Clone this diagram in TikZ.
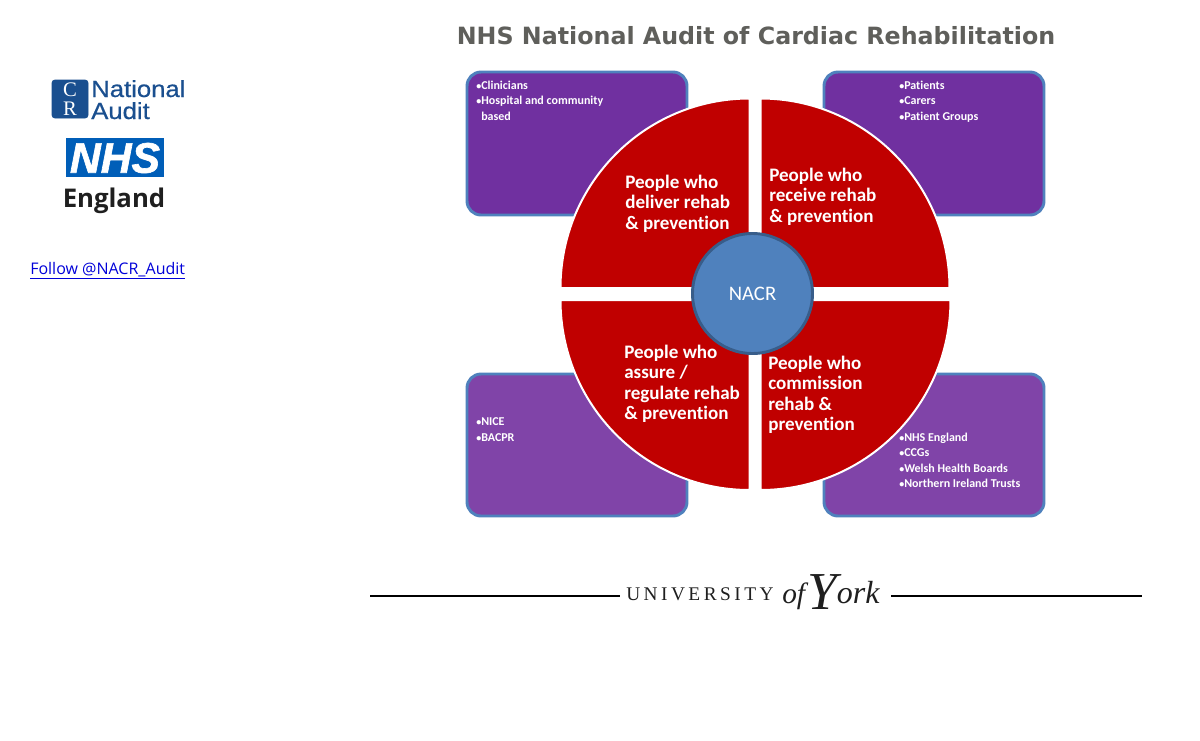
\documentclass[tikz,border=0pt]{standalone}
\usepackage{fontspec}
\setmainfont[RawFeature={-liga;-clig}]{Carlito}
\newfontfamily\titlefont{DejaVu Sans}
\newfontfamily\linkfont{Open Sans}
\newfontfamily\logofont[FakeStretch=1.1,FakeBold=0.6]{Liberation Sans}
\newfontfamily\nhsfont[FakeBold=1.5]{Liberation Sans}
\newfontfamily\yorkfont{Liberation Serif}
\newfontfamily\yorkspaced[LetterSpace=18]{Liberation Serif}
\definecolor{boxdark}{HTML}{7030A0}
\definecolor{boxlight}{HTML}{8044A8}
\definecolor{boxedge}{HTML}{4F81BD}
\definecolor{wedge}{HTML}{C00000}
\definecolor{hub}{HTML}{4F81BD}
\definecolor{hubedge}{HTML}{385D8A}
\definecolor{titlegrey}{HTML}{5F5F5B}
\definecolor{nhsblue}{HTML}{005EB8}
\definecolor{crblue}{HTML}{1A4F8F}
\newcommand{\px}[2]{\fontsize{#1}{#2}\selectfont}
\newcommand{\bul}{{\fontsize{7.5}{7.5}\selectfont•}}
\tikzset{
  panel/.style={draw=boxedge,line width=2.2pt,rounded corners=10.5pt},
  quarter/.style={fill=wedge,draw=white,line width=1.5pt},
  wedgelabel/.style={anchor=north west,inner sep=0pt,align=left,text=white,font=\bfseries\px{14.3}{15.4}},
  bullets/.style={anchor=north west,inner sep=0pt,align=left,text=white,font=\bfseries\px{9}{11.6}},
  rulebar/.style={draw=black,line width=1.3pt},
}
\begin{document}
\begin{tikzpicture}[x=0.75pt,y=-0.75pt]
\useasboundingbox (0,0) rectangle (1200,740);
\fill[white] (0,0) rectangle (1200,740);
\node[anchor=center,inner sep=0pt,text=titlegrey,font=\titlefont\bfseries\px{17.8}{22}] (title) at (756,36) {NHS National Audit of Cardiac Rehabilitation};
% side panels
\filldraw[panel,fill=boxdark] (467,72) rectangle (687,215);
\filldraw[panel,fill=boxdark] (824,72) rectangle (1044,215);
\filldraw[panel,fill=boxlight] (467,374) rectangle (687,516);
\filldraw[panel,fill=boxlight] (824,374) rectangle (1044,516);
\node[bullets] (tl) at (476,80.5) {\bul Clinicians\\\bul Hospital and community\\\phantom{\bul}based};
\node[bullets] (tr) at (899,80.5) {\bul Patients\\\bul Carers\\\bul Patient Groups};
\node[bullets] (bl) at (476,417.5) {\bul NICE\\\bul BACPR};
\node[bullets] (br) at (899,432.5) {\bul NHS England\\\bul CCGs\\\bul Welsh Health Boards\\\bul Northern Ireland Trusts};
% quarters
\filldraw[quarter] (749.5,288) -- (560.5,288) arc[start angle=180,end angle=90,x radius=189,y radius=-189.5] -- cycle;
\filldraw[quarter] (760.5,288) -- (760.5,98.5) arc[start angle=90,end angle=0,x radius=189,y radius=-189.5] -- cycle;
\filldraw[quarter] (749.5,300) -- (749.5,490) arc[start angle=270,end angle=180,x radius=189,y radius=-190] -- cycle;
\filldraw[quarter] (760.5,300) -- (950.5,300) arc[start angle=0,end angle=-90,x radius=190,y radius=-190] -- cycle;
\node[wedgelabel] (q1) at (625,174.5) {People who\\deliver rehab\\\& prevention};
\node[wedgelabel] (q2) at (769,167.5) {People who\\receive rehab\\\& prevention};
\node[wedgelabel] (q3) at (624,344.5) {People who\\assure /\\regulate rehab\\\& prevention};
\node[wedgelabel] (q4) at (768,355.5) {People who\\commission\\rehab \&\\prevention};
% hub
\node[circle,draw=hubedge,line width=2.2pt,fill=hub,minimum size=90pt,inner sep=0pt,text=white,font=\px{15.5}{17}] (hub) at (752.5,293.5) {NACR};
% left logos
\filldraw[fill=crblue,draw=crblue,rounded corners=2pt] (52,80) rectangle (88,118);
\node[inner sep=0pt,text=white,font=\yorkfont\px{15.5}{16}] (crc) at (70,89.5) {C};
\node[inner sep=0pt,text=white,font=\yorkfont\px{15.5}{16}] (crr) at (70,108.5) {R};
\node[anchor=base west,inner sep=0pt,text=crblue,font=\logofont\px{17.5}{18}] (nat) at (91,97) {National};
\node[anchor=base west,inner sep=0pt,text=crblue,font=\logofont\px{17.5}{18}] (aud) at (91,119) {Audit};
\fill[nhsblue] (66,138) rectangle (164,177);
\node[inner sep=0pt,text=white,font=\nhsfont\bfseries\itshape\px{32}{32}] (nhs) at (115,158) {NHS};
\node[inner sep=0pt,text=black!88,font=\linkfont\bfseries\px{19.3}{22}] (eng) at (114,201) {England};
\node[anchor=west,inner sep=0pt,text=blue!85!black,font=\linkfont\px{12}{14}] (follow) at (30,270.5) {\underline{Follow @NACR\_Audit}};
% York
\draw[rulebar] (370,596) -- (620,596);
\draw[rulebar] (891,596) -- (1142,596);
\node[anchor=base west,inner sep=0pt,text=black!88,font=\yorkspaced\px{14.5}{15}] (uni) at (626,600) {UNIVERSITY};
\node[anchor=base west,inner sep=0pt,text=black!88,font=\yorkfont\itshape\px{22}{22}] (of) at (782,603) {of};
\node[anchor=base west,inner sep=0pt,text=black!88,font=\yorkfont\itshape] (york) at (807,603) {\raisebox{-5pt}{\px{40}{40}Y}{\px{24}{24}ork}};
\end{tikzpicture}
\end{document}
